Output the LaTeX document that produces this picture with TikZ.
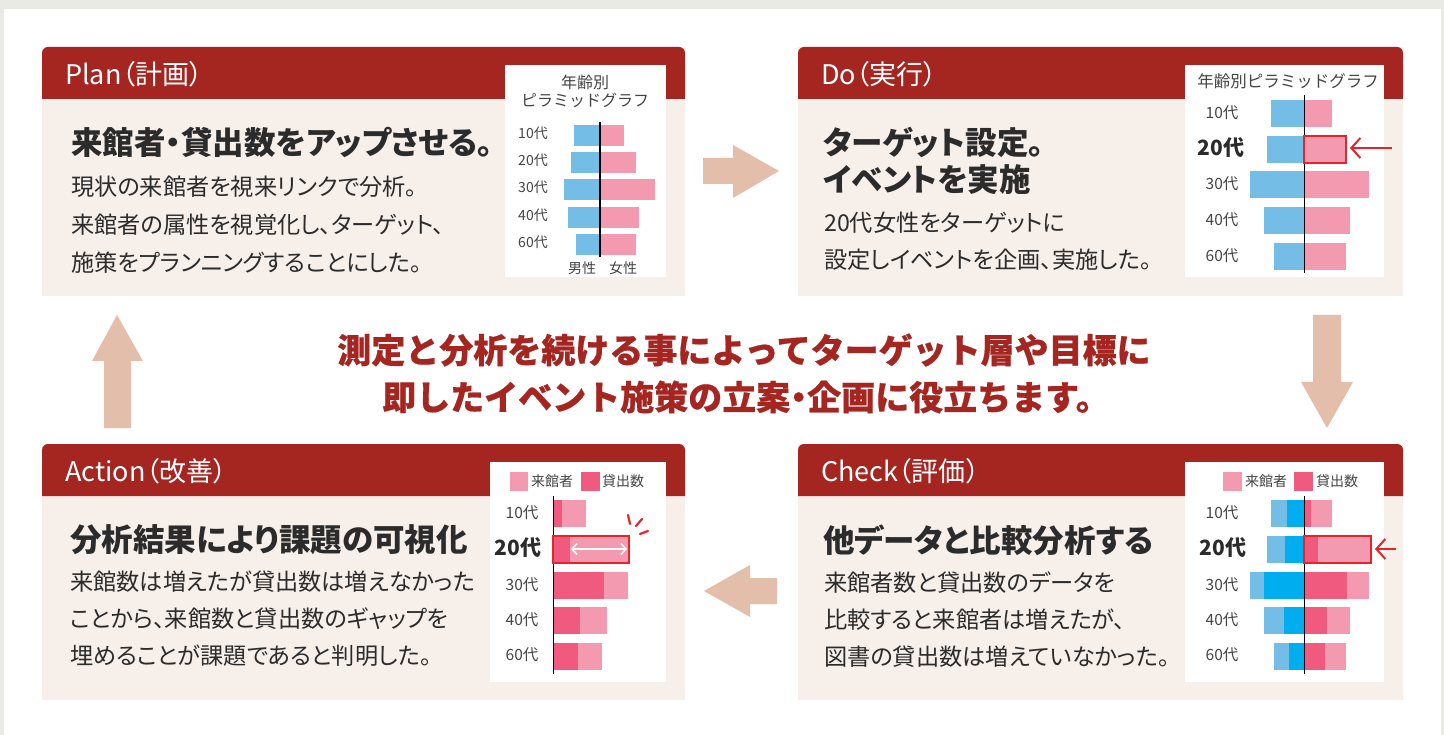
\documentclass[tikz,border=0pt]{standalone}
\usepackage{fontspec}
\setmainfont{Noto Sans CJK JP}
\newfontfamily\pfont{Noto Sans CJK JP}[RawFeature=+palt]
\newfontfamily\heavyfont{Noto Sans CJK JP}[BoldFeatures={FakeBold=0.6}]
\usetikzlibrary{arrows.meta}
\definecolor{outergray}{HTML}{E9E9E5}
\definecolor{headred}{HTML}{A52621}
\definecolor{bodybg}{HTML}{F7EFEA}
\definecolor{arrowc}{HTML}{E3BEAB}
\definecolor{lblue}{HTML}{74BDE6}
\definecolor{dblue}{HTML}{00AEEF}
\definecolor{lpink}{HTML}{F49AB0}
\definecolor{dpink}{HTML}{F05A7E}
\definecolor{hired}{HTML}{E8232A}
\definecolor{txt}{HTML}{2B2B2B}
\definecolor{lbl}{HTML}{444444}
\newcommand\fsz[1]{\fontsize{#1}{#1}\selectfont}
\tikzset{
  panelbody/.style={fill=bodybg, draw=none, inner sep=0pt},
  headtext/.style={anchor=west, text=white, font=\pfont\fsz{27}, inner sep=0pt},
  ttl/.style={anchor=west, text=txt, font=\pfont\bfseries\fsz{31.5}, inner sep=0pt},
  bodytxt/.style={anchor=west, text=txt, font=\pfont\fsz{23.2}, inner sep=0pt},
  agelbl/.style={text=lbl, font=\fsz{15.5}, inner sep=0pt},
  agebig/.style={text=txt, font=\bfseries\fsz{21}, inner sep=0pt},
  legtxt/.style={anchor=west, text=lbl, font=\fsz{14}, inner sep=0pt},
  blockarrow/.style={fill=arrowc, draw=none},
  hibox/.style={draw=hired, line width=2.5pt},
  axis/.style={draw=black, line width=1pt},
  center/.style={text=headred, font=\heavyfont\bfseries\fsz{34}, inner sep=0pt}
}
\begin{document}
\begin{tikzpicture}[x=1pt,y=-1pt]
\useasboundingbox (0,0) rectangle (1444,735);
\fill[outergray] (0,0) rectangle (1444,735);
\fill[white] (4,9) rectangle (1441,735);

% ---------- panels ----------
\node[panelbody, minimum width=643pt, minimum height=249pt] (plan) at (363.5,171.5) {};
\node[panelbody, minimum width=605pt, minimum height=249pt] (do) at (1100.5,171.5) {};
\node[panelbody, minimum width=643pt, minimum height=256pt] (action) at (363.5,572) {};
\node[panelbody, minimum width=605pt, minimum height=256pt] (check) at (1100.5,572) {};

\fill[headred] (42,99) [rounded corners=6pt] -- (42,47) -- (685,47) [sharp corners] -- (685,99) -- cycle;
\fill[headred] (798,99) [rounded corners=6pt] -- (798,47) -- (1403,47) [sharp corners] -- (1403,99) -- cycle;
\fill[headred] (42,496) [rounded corners=6pt] -- (42,444) -- (685,444) [sharp corners] -- (685,496) -- cycle;
\fill[headred] (798,496) [rounded corners=6pt] -- (798,444) -- (1403,444) [sharp corners] -- (1403,496) -- cycle;

\node[headtext] (planh) at (65,74) {Plan（計画）};
\node[headtext] (doh) at (821,74) {Do（実行）};
\node[headtext] (actionh) at (65,471) {Action（改善）};
\node[headtext] (checkh) at (821,471) {Check（評価）};

% ---------- block arrows ----------
\fill[blockarrow] (703,158) -- (733,158) -- (733,145) -- (779,171) -- (733,198) -- (733,184) -- (703,184) -- cycle;
\fill[blockarrow] (1313,315) -- (1341,315) -- (1341,382) -- (1353,382) -- (1327,428) -- (1301,382) -- (1313,382) -- cycle;
\fill[blockarrow] (777,578) -- (750,578) -- (750,565) -- (704,591) -- (750,617) -- (750,604) -- (777,604) -- cycle;
\fill[blockarrow] (104,428) -- (104,361) -- (92,361) -- (117,315) -- (143,361) -- (131,361) -- (131,428) -- cycle;

% ---------- center text ----------
\node[center] (msg1) at (744,350) {測定と分析を続ける事によってターゲット層や目標に};
\node[center] (msg2) at (746,397) {即したイベント施策の立案\kern-0.25em・\kern-0.25em企画に役立ちます。};

% ---------- Plan texts ----------
\node[ttl] (plant) at (71,143) {来館者・貸出数をアップさせる。};
\node[bodytxt] (planb1) at (71,187) {現状の来館者を視来リンクで分析。};
\node[bodytxt] (planb2) at (71,225) {来館者の属性を視覚化し、ターゲット、};
\node[bodytxt] (planb3) at (71,263) {施策をプランニングすることにした。};

% Plan chart
\fill[white] (505,65) rectangle (666,277);
\node[text=lbl, font=\fsz{16}, inner sep=0pt] (pct1) at (585,82) {年齢別};
\node[text=lbl, font=\fsz{16}, inner sep=0pt] (pct2) at (585,100) {ピラミッドグラフ};
\fill[lblue] (574,125) rectangle (600,146);
\fill[lpink] (600,125) rectangle (624,146);
\fill[lblue] (571,152) rectangle (600,173);
\fill[lpink] (600,152) rectangle (636,173);
\fill[lblue] (564,179) rectangle (600,200);
\fill[lpink] (600,179) rectangle (655,200);
\fill[lblue] (568,207) rectangle (600,228);
\fill[lpink] (600,207) rectangle (639,228);
\fill[lblue] (576,234) rectangle (600,255);
\fill[lpink] (600,234) rectangle (636,255);
\draw[axis, line width=1.2pt] (600,122) -- (600,257);
\node[agelbl, font=\fsz{14}] (p10) at (533,133) {10代};
\node[agelbl, font=\fsz{14}] (p20) at (533,160) {20代};
\node[agelbl, font=\fsz{14}] (p30) at (533,187) {30代};
\node[agelbl, font=\fsz{14}] (p40) at (533,215) {40代};
\node[agelbl, font=\fsz{14}] (p60) at (533,242) {60代};
\node[agelbl, font=\fsz{14}] (pm) at (582,268) {男性};
\node[agelbl, font=\fsz{14}] (pf) at (623,268) {女性};

% ---------- Do texts ----------
\node[ttl] (dot1) at (823,142) {ターゲット設定。};
\node[ttl] (dot2) at (823,180) {イベントを実施};
\node[bodytxt] (dob1) at (824,223) {20代女性をターゲットに};
\node[bodytxt] (dob2) at (824,260) {設定しイベントを企画、実施した。};

% Do chart
\fill[white] (1185,65) rectangle (1384,277);
\node[text=lbl, font=\fsz{16.5}, inner sep=0pt] (dct) at (1288,81) {年齢別ピラミッドグラフ};
\fill[lblue] (1271,100) rectangle (1304,127);
\fill[lpink] (1304,100) rectangle (1332,127);
\fill[lblue] (1267,136) rectangle (1304,163);
\fill[lpink] (1304,136) rectangle (1346,163);
\fill[lblue] (1250,171) rectangle (1304,198);
\fill[lpink] (1304,171) rectangle (1369,198);
\fill[lblue] (1264,207) rectangle (1304,234);
\fill[lpink] (1304,207) rectangle (1350,234);
\fill[lblue] (1274,243) rectangle (1304,270);
\fill[lpink] (1304,243) rectangle (1346,270);
\draw[axis] (1304,95) -- (1304,273);
\draw[hibox] (1304,136) rectangle (1346,163);
\coordinate (doarrs) at (1392,148);
\coordinate (doarre) at (1350,148);
\draw[hired, line width=2pt, -{Straight Barb[length=9pt,width=20pt]}] (doarrs) -- (doarre);
\node[agelbl] (d10) at (1222,113) {10代};
\node[agebig] (d20) at (1221,148) {20代};
\node[agelbl] (d30) at (1222,184) {30代};
\node[agelbl] (d40) at (1222,220) {40代};
\node[agelbl] (d60) at (1222,256) {60代};

% ---------- Action texts ----------
\node[ttl] (actt) at (70,540) {分析結果により課題の可視化};
\node[bodytxt] (actb1) at (70,582) {来館数は増えたが貸出数は増えなかった};
\node[bodytxt] (actb2) at (70,619) {ことから、来館数と貸出数のギャップを};
\node[bodytxt] (actb3) at (70,656) {埋めることが課題であると判明した。};

% Action chart
\fill[white] (490,462) rectangle (666,682);
\fill[lpink] (510,472) rectangle (528,491);
\node[legtxt] (al1) at (531,481) {来館者};
\fill[dpink] (581,472) rectangle (600,491);
\node[legtxt] (al2) at (602,481) {貸出数};
\fill[lpink] (553,500) rectangle (586,527);
\fill[dpink] (553,500) rectangle (562,527);
\fill[lpink] (553,536) rectangle (629,563);
\fill[dpink] (553,536) rectangle (570,563);
\fill[lpink] (553,572) rectangle (628,599);
\fill[dpink] (553,572) rectangle (604,599);
\fill[lpink] (553,607) rectangle (607,634);
\fill[dpink] (553,607) rectangle (580,634);
\fill[lpink] (553,643) rectangle (602,670);
\fill[dpink] (553,643) rectangle (578,670);
\draw[axis] (553,496) -- (553,674);
\draw[hibox] (553,536) rectangle (629,563);
\coordinate (gapl) at (571,549);
\coordinate (gapr) at (627,549);
\draw[white, line width=1.5pt, {Straight Barb[length=5pt,width=11pt]}-{Straight Barb[length=5pt,width=11pt]}] (gapl) -- (gapr);
\draw[hired, line width=2.2pt, line cap=round] (628,515) -- (630,524);
\draw[hired, line width=2.2pt, line cap=round] (636,526) -- (642,519);
\draw[hired, line width=2.2pt, line cap=round] (640,534) -- (648,531);
\node[agelbl] (a10) at (522,513) {10代};
\node[agebig] (a20) at (518,548) {20代};
\node[agelbl] (a30) at (522,585) {30代};
\node[agelbl] (a40) at (522,620) {40代};
\node[agelbl] (a60) at (522,655) {60代};

% ---------- Check texts ----------
\node[ttl] (chkt) at (823,540) {他データと比較分析する};
\node[bodytxt] (chkb1) at (824,583) {来館者数と貸出数のデータを};
\node[bodytxt] (chkb2) at (824,620) {比較すると来館者は増えたが、};
\node[bodytxt] (chkb3) at (824,657) {図書の貸出数は増えていなかった。};

% Check chart
\fill[white] (1185,462) rectangle (1384,682);
\fill[lpink] (1223,472) rectangle (1242,491);
\node[legtxt] (cl1) at (1245,481) {来館者};
\fill[dpink] (1294,472) rectangle (1313,491);
\node[legtxt] (cl2) at (1316,481) {貸出数};
% 10
\fill[lblue] (1271,500) rectangle (1304,527);
\fill[dblue] (1287,500) rectangle (1304,527);
\fill[lpink] (1304,500) rectangle (1332,527);
\fill[dpink] (1304,500) rectangle (1311,527);
% 20
\fill[lblue] (1267,536) rectangle (1304,563);
\fill[dblue] (1285,536) rectangle (1304,563);
\fill[lpink] (1304,536) rectangle (1370,563);
\fill[dpink] (1304,536) rectangle (1318,563);
% 30
\fill[lblue] (1250,572) rectangle (1304,599);
\fill[dblue] (1264,572) rectangle (1304,599);
\fill[lpink] (1304,572) rectangle (1369,599);
\fill[dpink] (1304,572) rectangle (1347,599);
% 40
\fill[lblue] (1264,607) rectangle (1304,634);
\fill[dblue] (1284,607) rectangle (1304,634);
\fill[lpink] (1304,607) rectangle (1350,634);
\fill[dpink] (1304,607) rectangle (1327,634);
% 60
\fill[lblue] (1274,643) rectangle (1304,670);
\fill[dblue] (1289,643) rectangle (1304,670);
\fill[lpink] (1304,643) rectangle (1346,670);
\fill[dpink] (1304,643) rectangle (1325,670);
\draw[axis] (1304,496) -- (1304,674);
\draw[hibox] (1304,536) rectangle (1371,563);
\coordinate (chkarrs) at (1396,549);
\coordinate (chkarre) at (1375,549);
\draw[hired, line width=2pt, -{Straight Barb[length=9pt,width=20pt]}] (chkarrs) -- (chkarre);
\node[agelbl] (c10) at (1222,513) {10代};
\node[agebig] (c20) at (1223,548) {20代};
\node[agelbl] (c30) at (1222,585) {30代};
\node[agelbl] (c40) at (1222,620) {40代};
\node[agelbl] (c60) at (1222,655) {60代};
\end{tikzpicture}
\end{document}
